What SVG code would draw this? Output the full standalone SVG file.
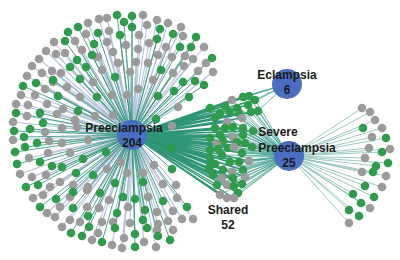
<svg xmlns="http://www.w3.org/2000/svg" width="400" height="260" viewBox="0 0 400 260">
<style>
.k{fill:#9b9b9b}
.g{fill:#2f9c4b}
.k,.g{r:4.3px}
.hub{fill:#4a6fc2}
.ek{fill:none;stroke:#b6c2da;stroke-width:1.1}
.eg{fill:none;stroke:#2f957a;stroke-width:1;stroke-opacity:0.85}
.es{fill:none;stroke:#188a68;stroke-width:1.4;stroke-opacity:0.9}
.ev{fill:none;stroke:#3f9f8c;stroke-width:0.9;stroke-opacity:0.85}
.er{fill:none;stroke:#8fc3b9;stroke-width:0.9}
text{font-family:"Liberation Sans",Arial,Helvetica,sans-serif;font-weight:bold;font-size:12px;fill:#1a1a1a;text-anchor:middle}
</style>
<rect width="400" height="260" fill="#ffffff"/>
<g id="connectors">
<path class="ek" d="M132 135L143 15M132 135L107 18M132 135L99 19M132 135L88 23M132 135L157 20M132 135L168 23M132 135L181 27M132 135L147 25M132 135L86 34M132 135L109 31M132 135L139 35M132 135L149 43M132 135L183 36M132 135L54 42M132 135L75 41M132 135L107 42M132 135L126 45M132 135L166 47M132 135L204 47M132 135L46 51M132 135L56 54M132 135L65 53M132 135L82 50M132 135L113 52M132 135L138 49M132 135L158 55M132 135L172 57M132 135L185 56M132 135L193 59M132 135L98 57M132 135L118 63M132 135L136 62M132 135L39 59M132 135L32 66M132 135L42 73M132 135L52 71M132 135L61 73M132 135L102 70M132 135L130 72M132 135L148 63M132 135L173 73M132 135L184 66M132 135L198 71M132 135L213 72M132 135L206 63M132 135L27 76M132 135L93 82M132 135L153 80M132 135L138 89M132 135L112 95M132 135L127 95M132 135L178 107M132 135L172 126M132 135L113 115M132 135L53 82M132 135L67 87M132 135L21 95M132 135L35 95M132 135L45 89M132 135L80 97M132 135L16 104M132 135L28 105M132 135L47 104M132 135L63 109M132 135L27 116M132 135L57 114M132 135L75 120M132 135L95 116M132 135L13 122M132 135L45 132M132 135L62 128M132 135L77 127M132 135L13 140M132 135L49 141M132 135L62 143M132 135L88 140M132 135L48 153M132 135L70 153M132 135L29 158M132 135L20 174M132 135L32 177M132 135L46 175M132 135L60 182M132 135L73 185M132 135L50 187M132 135L88 187M132 135L121 162M132 135L154 165M132 135L107 169M132 135L127 173M132 135L143 173M132 135L163 184M132 135L176 185M132 135L87 190M132 135L109 200M132 135L148 197M132 135L177 198M132 135L33 198M132 135L43 195M132 135L70 197M132 135L47 213M132 135L60 207M132 135L87 207M132 135L99 208M132 135L128 207M132 135L157 212M132 135L173 211M132 135L55 217M132 135L70 220M132 135L80 222M132 135L102 222M132 135L113 222M132 135L130 223M132 135L158 224M132 135L168 221M132 135L182 219M132 135L193 219M132 135L62 227M132 135L157 230M132 135L173 230M132 135L92 240M132 135L98 233M132 135L112 245M132 135L124 238M132 135L144 242M132 135L122 248M132 135L156 247"/>
<path class="eg" d="M132 135L117 15M132 135L132 16M132 135L124 22M132 135L78 27M132 135L132 27M132 135L160 29M132 135L68 32M132 135L98 33M132 135L120 35M132 135L173 34M132 135L196 37M132 135L65 41M132 135L94 44M132 135L157 39M132 135L180 47M132 135L191 47M132 135L92 55M132 135L212 58M132 135L77 60M132 135L70 67M132 135L86 67M132 135L161 70M132 135L183 82M132 135L195 81M132 135L204 85M132 135L53 80M132 135L80 79M132 135L115 77M132 135L174 91M132 135L158 96M132 135L189 97M132 135L156 119M132 135L23 86M132 135L36 83M132 135L58 96M132 135L97 97M132 135L78 111M132 135L16 113M132 135L40 113M132 135L43 123M132 135L14 131M132 135L30 129M132 135L24 137M132 135L37 143M132 135L25 147M132 135L15 152M132 135L83 159M132 135L17 164M132 135L40 162M132 135L52 166M132 135L62 167M132 135L76 173M132 135L93 175M132 135L26 187M132 135L38 185M132 135L106 152M132 135L171 148M132 135L172 169M132 135L115 183M132 135L143 182M132 135L100 193M132 135L123 197M132 135L135 199M132 135L163 201M132 135L40 207M132 135L56 199M132 135L73 192M132 135L73 208M132 135L117 213M132 135L145 210M132 135L187 207M132 135L88 216M132 135L143 220M132 135L89 227M132 135L115 228M132 135L147 228M132 135L71 233M132 135L82 236M132 135L102 242M132 135L135 234M132 135L158 236M132 135L170 240M132 135L135 247"/>
<path class="es" d="M132 135L232 100M132 135L243 97M132 135L249 96M132 135L255 100M132 135L225 106M132 135L237 108M132 135L248 105M132 135L220 113M132 135L230 112M132 135L239 113M132 135L251 112M132 135L258 111M132 135L242 118M132 135L227 122M132 135L215 118M132 135L215 128M132 135L225 128M132 135L233 127M132 135L243 128M132 135L253 131M132 135L210 138M132 135L220 135M132 135L233 137M132 135L243 135M132 135L223 141M132 135L237 142M132 135L245 143M132 135L252 147M132 135L217 144M132 135L210 150M132 135L218 149M132 135L228 148M132 135L234 147M132 135L242 153M132 135L249 161M132 135L210 158M132 135L222 155M132 135L230 162M132 135L239 162M132 135L215 164M132 135L209 168M132 135L223 170M132 135L232 172M132 135L243 170M132 135L213 175M132 135L222 178M132 135L245 177M132 135L233 178M132 135L217 185M132 135L227 185M132 135L234 186M132 135L242 184M132 135L238 193M132 135L220 195M132 135L227 198M132 135L234 198M132 135L210 108"/>
<path class="ev" d="M289 156L232 100M289 156L243 97M289 156L249 96M289 156L255 100M289 156L225 106M289 156L237 108M289 156L248 105M289 156L220 113M289 156L230 112M289 156L239 113M289 156L251 112M289 156L258 111M289 156L242 118M289 156L227 122M289 156L215 118M289 156L215 128M289 156L225 128M289 156L233 127M289 156L243 128M289 156L253 131M289 156L210 138M289 156L220 135M289 156L233 137M289 156L243 135M289 156L223 141M289 156L237 142M289 156L245 143M289 156L252 147M289 156L217 144M289 156L210 150M289 156L218 149M289 156L228 148M289 156L234 147M289 156L242 153M289 156L249 161M289 156L210 158M289 156L222 155M289 156L230 162M289 156L239 162M289 156L215 164M289 156L209 168M289 156L223 170M289 156L232 172M289 156L243 170M289 156L213 175M289 156L222 178M289 156L245 177M289 156L233 178M289 156L217 185M289 156L227 185M289 156L234 186M289 156L242 184M289 156L238 193M289 156L220 195M289 156L227 198M289 156L234 198M289 156L210 108"/>
<path class="ev" d="M287 84L232 100M287 84L243 97M287 84L249 96M287 84L255 100M287 84L248 105M287 84L258 111"/>
<path class="er" d="M289 156L362 108M289 156L370 112M289 156L375 120M289 156L382 128M289 156L372 137M289 156L369 148M289 156L390 149M289 156L365 158M289 156L362 172M289 156L386 176M289 156L382 187M289 156L370 208M289 156L349 223M289 156L363 128M289 156L386 138M289 156L382 152M289 156L376 166M289 156L388 163M289 156L373 172M289 156L365 186M289 156L353 194M289 156L374 197M289 156L361 203M289 156L349 210M289 156L359 216"/>
</g>
<g id="preeclampsia-leaves">
<circle class="k" r="4" cx="143" cy="15"/><circle class="k" r="4" cx="107" cy="18"/><circle class="k" r="4" cx="99" cy="19"/><circle class="k" r="4" cx="88" cy="23"/><circle class="k" r="4" cx="157" cy="20"/><circle class="k" r="4" cx="168" cy="23"/><circle class="k" r="4" cx="181" cy="27"/><circle class="k" r="4" cx="147" cy="25"/><circle class="k" r="4" cx="86" cy="34"/><circle class="k" r="4" cx="109" cy="31"/><circle class="k" r="4" cx="139" cy="35"/><circle class="k" r="4" cx="149" cy="43"/><circle class="k" r="4" cx="183" cy="36"/><circle class="k" r="4" cx="54" cy="42"/><circle class="k" r="4" cx="75" cy="41"/><circle class="k" r="4" cx="107" cy="42"/><circle class="k" r="4" cx="126" cy="45"/><circle class="k" r="4" cx="166" cy="47"/><circle class="k" r="4" cx="204" cy="47"/><circle class="k" r="4" cx="46" cy="51"/><circle class="k" r="4" cx="56" cy="54"/><circle class="k" r="4" cx="65" cy="53"/><circle class="k" r="4" cx="82" cy="50"/><circle class="k" r="4" cx="113" cy="52"/><circle class="k" r="4" cx="138" cy="49"/><circle class="k" r="4" cx="158" cy="55"/><circle class="k" r="4" cx="172" cy="57"/><circle class="k" r="4" cx="185" cy="56"/><circle class="k" r="4" cx="193" cy="59"/><circle class="k" r="4" cx="98" cy="57"/><circle class="k" r="4" cx="118" cy="63"/><circle class="k" r="4" cx="136" cy="62"/><circle class="k" r="4" cx="39" cy="59"/><circle class="k" r="4" cx="32" cy="66"/><circle class="k" r="4" cx="42" cy="73"/><circle class="k" r="4" cx="52" cy="71"/><circle class="k" r="4" cx="61" cy="73"/><circle class="k" r="4" cx="102" cy="70"/><circle class="k" r="4" cx="130" cy="72"/><circle class="k" r="4" cx="148" cy="63"/><circle class="k" r="4" cx="173" cy="73"/><circle class="k" r="4" cx="184" cy="66"/><circle class="k" r="4" cx="198" cy="71"/><circle class="k" r="4" cx="213" cy="72"/><circle class="k" r="4" cx="206" cy="63"/><circle class="k" r="4" cx="27" cy="76"/><circle class="k" r="4" cx="93" cy="82"/><circle class="k" r="4" cx="153" cy="80"/><circle class="k" r="4" cx="138" cy="89"/><circle class="k" r="4" cx="112" cy="95"/><circle class="k" r="4" cx="127" cy="95"/><circle class="k" r="4" cx="178" cy="107"/><circle class="k" r="4" cx="172" cy="126"/><circle class="k" r="4" cx="113" cy="115"/><circle class="k" r="4" cx="53" cy="82"/><circle class="k" r="4" cx="67" cy="87"/><circle class="k" r="4" cx="21" cy="95"/><circle class="k" r="4" cx="35" cy="95"/><circle class="k" r="4" cx="45" cy="89"/><circle class="k" r="4" cx="80" cy="97"/><circle class="k" r="4" cx="16" cy="104"/><circle class="k" r="4" cx="28" cy="105"/><circle class="k" r="4" cx="47" cy="104"/><circle class="k" r="4" cx="63" cy="109"/><circle class="k" r="4" cx="27" cy="116"/><circle class="k" r="4" cx="57" cy="114"/><circle class="k" r="4" cx="75" cy="120"/><circle class="k" r="4" cx="95" cy="116"/><circle class="k" r="4" cx="13" cy="122"/><circle class="k" r="4" cx="45" cy="132"/><circle class="k" r="4" cx="62" cy="128"/><circle class="k" r="4" cx="77" cy="127"/><circle class="k" r="4" cx="13" cy="140"/><circle class="k" r="4" cx="49" cy="141"/><circle class="k" r="4" cx="62" cy="143"/><circle class="k" r="4" cx="88" cy="140"/><circle class="k" r="4" cx="48" cy="153"/><circle class="k" r="4" cx="70" cy="153"/><circle class="k" r="4" cx="29" cy="158"/><circle class="k" r="4" cx="20" cy="174"/><circle class="k" r="4" cx="32" cy="177"/><circle class="k" r="4" cx="46" cy="175"/><circle class="k" r="4" cx="60" cy="182"/><circle class="k" r="4" cx="73" cy="185"/><circle class="k" r="4" cx="50" cy="187"/><circle class="k" r="4" cx="88" cy="187"/><circle class="k" r="4" cx="121" cy="162"/><circle class="k" r="4" cx="154" cy="165"/><circle class="k" r="4" cx="107" cy="169"/><circle class="k" r="4" cx="127" cy="173"/><circle class="k" r="4" cx="143" cy="173"/><circle class="k" r="4" cx="163" cy="184"/><circle class="k" r="4" cx="176" cy="185"/><circle class="k" r="4" cx="87" cy="190"/><circle class="k" r="4" cx="109" cy="200"/><circle class="k" r="4" cx="148" cy="197"/><circle class="k" r="4" cx="177" cy="198"/><circle class="k" r="4" cx="33" cy="198"/><circle class="k" r="4" cx="43" cy="195"/><circle class="k" r="4" cx="70" cy="197"/><circle class="k" r="4" cx="47" cy="213"/><circle class="k" r="4" cx="60" cy="207"/><circle class="k" r="4" cx="87" cy="207"/><circle class="k" r="4" cx="99" cy="208"/><circle class="k" r="4" cx="128" cy="207"/><circle class="k" r="4" cx="157" cy="212"/><circle class="k" r="4" cx="173" cy="211"/><circle class="k" r="4" cx="55" cy="217"/><circle class="k" r="4" cx="70" cy="220"/><circle class="k" r="4" cx="80" cy="222"/><circle class="k" r="4" cx="102" cy="222"/><circle class="k" r="4" cx="113" cy="222"/><circle class="k" r="4" cx="130" cy="223"/><circle class="k" r="4" cx="158" cy="224"/><circle class="k" r="4" cx="168" cy="221"/><circle class="k" r="4" cx="182" cy="219"/><circle class="k" r="4" cx="193" cy="219"/><circle class="k" r="4" cx="62" cy="227"/><circle class="k" r="4" cx="157" cy="230"/><circle class="k" r="4" cx="173" cy="230"/><circle class="k" r="4" cx="92" cy="240"/><circle class="k" r="4" cx="98" cy="233"/><circle class="k" r="4" cx="112" cy="245"/><circle class="k" r="4" cx="124" cy="238"/><circle class="k" r="4" cx="144" cy="242"/><circle class="k" r="4" cx="122" cy="248"/><circle class="k" r="4" cx="156" cy="247"/>
<circle class="g" r="4" cx="117" cy="15"/><circle class="g" r="4" cx="132" cy="16"/><circle class="g" r="4" cx="124" cy="22"/><circle class="g" r="4" cx="78" cy="27"/><circle class="g" r="4" cx="132" cy="27"/><circle class="g" r="4" cx="160" cy="29"/><circle class="g" r="4" cx="68" cy="32"/><circle class="g" r="4" cx="98" cy="33"/><circle class="g" r="4" cx="120" cy="35"/><circle class="g" r="4" cx="173" cy="34"/><circle class="g" r="4" cx="196" cy="37"/><circle class="g" r="4" cx="65" cy="41"/><circle class="g" r="4" cx="94" cy="44"/><circle class="g" r="4" cx="157" cy="39"/><circle class="g" r="4" cx="180" cy="47"/><circle class="g" r="4" cx="191" cy="47"/><circle class="g" r="4" cx="92" cy="55"/><circle class="g" r="4" cx="212" cy="58"/><circle class="g" r="4" cx="77" cy="60"/><circle class="g" r="4" cx="70" cy="67"/><circle class="g" r="4" cx="86" cy="67"/><circle class="g" r="4" cx="161" cy="70"/><circle class="g" r="4" cx="183" cy="82"/><circle class="g" r="4" cx="195" cy="81"/><circle class="g" r="4" cx="204" cy="85"/><circle class="g" r="4" cx="53" cy="80"/><circle class="g" r="4" cx="80" cy="79"/><circle class="g" r="4" cx="115" cy="77"/><circle class="g" r="4" cx="174" cy="91"/><circle class="g" r="4" cx="158" cy="96"/><circle class="g" r="4" cx="189" cy="97"/><circle class="g" r="4" cx="156" cy="119"/><circle class="g" r="4" cx="23" cy="86"/><circle class="g" r="4" cx="36" cy="83"/><circle class="g" r="4" cx="58" cy="96"/><circle class="g" r="4" cx="97" cy="97"/><circle class="g" r="4" cx="78" cy="111"/><circle class="g" r="4" cx="16" cy="113"/><circle class="g" r="4" cx="40" cy="113"/><circle class="g" r="4" cx="43" cy="123"/><circle class="g" r="4" cx="14" cy="131"/><circle class="g" r="4" cx="30" cy="129"/><circle class="g" r="4" cx="24" cy="137"/><circle class="g" r="4" cx="37" cy="143"/><circle class="g" r="4" cx="25" cy="147"/><circle class="g" r="4" cx="15" cy="152"/><circle class="g" r="4" cx="83" cy="159"/><circle class="g" r="4" cx="17" cy="164"/><circle class="g" r="4" cx="40" cy="162"/><circle class="g" r="4" cx="52" cy="166"/><circle class="g" r="4" cx="62" cy="167"/><circle class="g" r="4" cx="76" cy="173"/><circle class="g" r="4" cx="93" cy="175"/><circle class="g" r="4" cx="26" cy="187"/><circle class="g" r="4" cx="38" cy="185"/><circle class="g" r="4" cx="106" cy="152"/><circle class="g" r="4" cx="171" cy="148"/><circle class="g" r="4" cx="172" cy="169"/><circle class="g" r="4" cx="115" cy="183"/><circle class="g" r="4" cx="143" cy="182"/><circle class="g" r="4" cx="100" cy="193"/><circle class="g" r="4" cx="123" cy="197"/><circle class="g" r="4" cx="135" cy="199"/><circle class="g" r="4" cx="163" cy="201"/><circle class="g" r="4" cx="40" cy="207"/><circle class="g" r="4" cx="56" cy="199"/><circle class="g" r="4" cx="73" cy="192"/><circle class="g" r="4" cx="73" cy="208"/><circle class="g" r="4" cx="117" cy="213"/><circle class="g" r="4" cx="145" cy="210"/><circle class="g" r="4" cx="187" cy="207"/><circle class="g" r="4" cx="88" cy="216"/><circle class="g" r="4" cx="143" cy="220"/><circle class="g" r="4" cx="89" cy="227"/><circle class="g" r="4" cx="115" cy="228"/><circle class="g" r="4" cx="147" cy="228"/><circle class="g" r="4" cx="71" cy="233"/><circle class="g" r="4" cx="82" cy="236"/><circle class="g" r="4" cx="102" cy="242"/><circle class="g" r="4" cx="135" cy="234"/><circle class="g" r="4" cx="158" cy="236"/><circle class="g" r="4" cx="170" cy="240"/><circle class="g" r="4" cx="135" cy="247"/>
</g>
<g id="shared-leaves">
<circle class="k" r="4" cx="232" cy="100"/><circle class="g" r="4" cx="243" cy="97"/><circle class="g" r="4" cx="249" cy="96"/><circle class="g" r="4" cx="255" cy="100"/><circle class="g" r="4" cx="225" cy="106"/><circle class="g" r="4" cx="237" cy="108"/><circle class="g" r="4" cx="248" cy="105"/><circle class="g" r="4" cx="220" cy="113"/><circle class="g" r="4" cx="230" cy="112"/><circle class="g" r="4" cx="239" cy="113"/><circle class="g" r="4" cx="251" cy="112"/><circle class="g" r="4" cx="258" cy="111"/><circle class="k" r="4" cx="242" cy="118"/><circle class="k" r="4" cx="227" cy="122"/><circle class="g" r="4" cx="215" cy="118"/><circle class="g" r="4" cx="215" cy="128"/><circle class="g" r="4" cx="225" cy="128"/><circle class="g" r="4" cx="233" cy="127"/><circle class="g" r="4" cx="243" cy="128"/><circle class="g" r="4" cx="253" cy="131"/><circle class="g" r="4" cx="210" cy="138"/><circle class="g" r="4" cx="220" cy="135"/><circle class="k" r="4" cx="233" cy="137"/><circle class="g" r="4" cx="243" cy="135"/><circle class="g" r="4" cx="223" cy="141"/><circle class="g" r="4" cx="237" cy="142"/><circle class="g" r="4" cx="245" cy="143"/><circle class="g" r="4" cx="252" cy="147"/><circle class="k" r="4" cx="217" cy="144"/><circle class="g" r="4" cx="210" cy="150"/><circle class="g" r="4" cx="218" cy="149"/><circle class="g" r="4" cx="228" cy="148"/><circle class="k" r="4" cx="234" cy="147"/><circle class="g" r="4" cx="242" cy="153"/><circle class="k" r="4" cx="249" cy="161"/><circle class="g" r="4" cx="210" cy="158"/><circle class="g" r="4" cx="222" cy="155"/><circle class="g" r="4" cx="230" cy="162"/><circle class="g" r="4" cx="239" cy="162"/><circle class="g" r="4" cx="215" cy="164"/><circle class="g" r="4" cx="209" cy="168"/><circle class="g" r="4" cx="223" cy="170"/><circle class="k" r="4" cx="232" cy="172"/><circle class="g" r="4" cx="243" cy="170"/><circle class="g" r="4" cx="213" cy="175"/><circle class="k" r="4" cx="222" cy="178"/><circle class="k" r="4" cx="245" cy="177"/><circle class="g" r="4" cx="233" cy="178"/><circle class="g" r="4" cx="217" cy="185"/><circle class="k" r="4" cx="227" cy="185"/><circle class="g" r="4" cx="234" cy="186"/><circle class="g" r="4" cx="242" cy="184"/><circle class="g" r="4" cx="238" cy="193"/><circle class="k" r="4" cx="220" cy="195"/><circle class="k" r="4" cx="227" cy="198"/><circle class="k" r="4" cx="234" cy="198"/><circle class="g" r="4" cx="210" cy="108"/>
</g>
<g id="severe-leaves">
<circle class="k" r="4" cx="362" cy="108"/><circle class="k" r="4" cx="370" cy="112"/><circle class="k" r="4" cx="375" cy="120"/><circle class="k" r="4" cx="382" cy="128"/><circle class="k" r="4" cx="372" cy="137"/><circle class="k" r="4" cx="369" cy="148"/><circle class="k" r="4" cx="390" cy="149"/><circle class="k" r="4" cx="365" cy="158"/><circle class="k" r="4" cx="362" cy="172"/><circle class="k" r="4" cx="386" cy="176"/><circle class="k" r="4" cx="382" cy="187"/><circle class="k" r="4" cx="370" cy="208"/><circle class="k" r="4" cx="349" cy="223"/>
<circle class="g" r="4" cx="363" cy="128"/><circle class="g" r="4" cx="386" cy="138"/><circle class="g" r="4" cx="382" cy="152"/><circle class="g" r="4" cx="376" cy="166"/><circle class="g" r="4" cx="388" cy="163"/><circle class="g" r="4" cx="373" cy="172"/><circle class="g" r="4" cx="365" cy="186"/><circle class="g" r="4" cx="353" cy="194"/><circle class="g" r="4" cx="374" cy="197"/><circle class="g" r="4" cx="361" cy="203"/><circle class="g" r="4" cx="349" cy="210"/><circle class="g" r="4" cx="359" cy="216"/>
</g>
<g id="preeclampsia">
<circle class="hub" cx="132" cy="135" r="15"/>
<text x="124" y="132">Preeclampsia</text>
<text x="132" y="147">204</text>
</g>
<g id="eclampsia">
<circle class="hub" cx="287" cy="84" r="15"/>
<text x="287" y="79">Eclampsia</text>
<text x="287" y="94">6</text>
</g>
<g id="severe-preeclampsia">
<circle class="hub" cx="289" cy="156" r="15"/>
<text x="278" y="136">Severe</text>
<text x="297" y="152">Preeclampsia</text>
<text x="289" y="167">25</text>
</g>
<g id="shared">
<text x="228" y="214">Shared</text>
<text x="228" y="229">52</text>
</g>
</svg>
